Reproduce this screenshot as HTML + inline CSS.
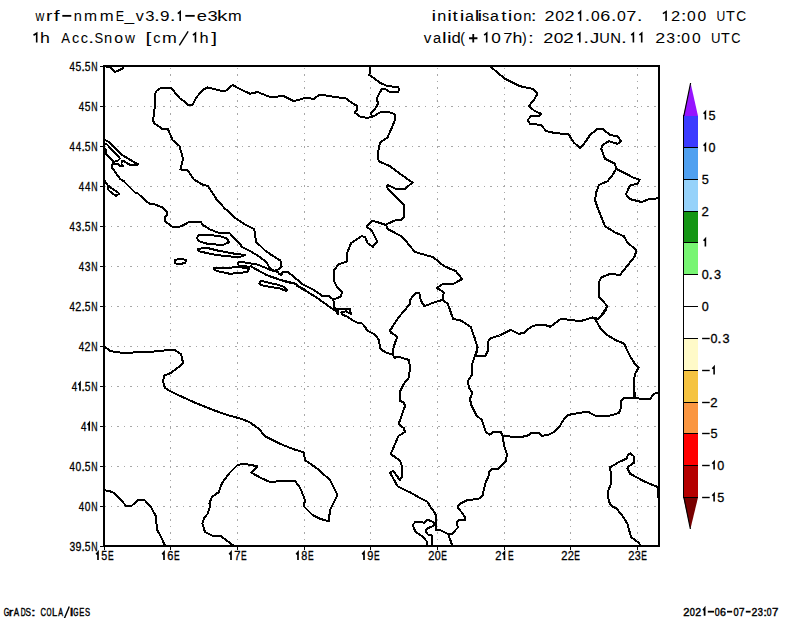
<!DOCTYPE html><html><head><meta charset="utf-8"><style>html,body{margin:0;padding:0;background:#fff;width:800px;height:618px;overflow:hidden}svg{display:block}text{font-family:"Liberation Sans",sans-serif;fill:#000}</style></head><body>
<svg width="800" height="618" viewBox="0 0 800 618">
<rect width="800" height="618" fill="#fff"/>
<text transform="translate(35.52 21) scale(0.845 1)" font-size="14.5" >w</text><text transform="translate(45.93 21) scale(1.324 1)" font-size="14.5" >r</text><text transform="translate(53.72 21) scale(1.450 1)" font-size="14.5" >f</text><rect x="62.30" y="14.95" width="9.00" height="1.8"/><text transform="translate(73.73 21) scale(1.007 1)" font-size="14.5" >n</text><text transform="translate(83.96 21) scale(1.083 1)" font-size="14.5" >m</text><text transform="translate(99.69 21) scale(1.152 1)" font-size="14.5" >m</text><text transform="translate(115.67 21) scale(0.865 1)" font-size="14.5" >E</text><text transform="translate(124.46 21) scale(1.196 1)" font-size="14.5" >_</text><text transform="translate(135.69 21) scale(1.112 1)" font-size="14.5" >v</text><text transform="translate(145.17 21) scale(1.149 1)" font-size="14.5" >3</text><text transform="translate(154.03 21) scale(1.450 1)" font-size="14.5" >.</text><text transform="translate(160.10 21) scale(1.179 1)" font-size="14.5" >9</text><text transform="translate(169.83 21) scale(1.450 1)" font-size="14.5" >.</text><path d="M177.80 13.60L180.20 11.60V21" stroke="#000" stroke-width="1.6" fill="none"/><rect x="185.30" y="14.95" width="9.40" height="1.8"/><text transform="translate(196.82 21) scale(1.264 1)" font-size="14.5" >e</text><text transform="translate(207.60 21) scale(1.265 1)" font-size="14.5" >3</text><text transform="translate(217.07 21) scale(1.450 1)" font-size="14.5" >k</text><text transform="translate(228.11 21) scale(1.132 1)" font-size="14.5" >m</text>
<path d="M33.50 35.20L36.70 33.20V42.6" stroke="#000" stroke-width="1.6" fill="none"/><text transform="translate(40.02 42.6) scale(1.226 1)" font-size="14.5" >h</text><text transform="translate(61.22 42.6) scale(0.910 1)" font-size="14.5" >A</text><text transform="translate(71.88 42.6) scale(1.000 1)" font-size="14.5" >c</text><text transform="translate(80.63 42.6) scale(1.000 1)" font-size="14.5" >c</text><text transform="translate(88.33 42.6) scale(1.450 1)" font-size="14.5" >.</text><text transform="translate(94.41 42.6) scale(0.898 1)" font-size="14.5" >S</text><text transform="translate(104.02 42.6) scale(1.015 1)" font-size="14.5" >n</text><text transform="translate(114.33 42.6) scale(1.095 1)" font-size="14.5" >o</text><text transform="translate(125.02 42.6) scale(0.950 1)" font-size="14.5" >w</text><text transform="translate(145.49 42.6) scale(1.450 1)" font-size="14.5" >[</text><text transform="translate(153.13 42.6) scale(1.000 1)" font-size="14.5" >c</text><text transform="translate(161.92 42.6) scale(1.230 1)" font-size="14.5" >m</text><path d="M179.35 45.40L188.15 31.39" stroke="#000" stroke-width="1.4" fill="none"/><path d="M192.90 35.20L195.45 33.20V42.6" stroke="#000" stroke-width="1.6" fill="none"/><text transform="translate(199.47 42.6) scale(1.128 1)" font-size="14.5" >h</text><text transform="translate(211.17 42.6) scale(1.450 1)" font-size="14.5" >]</text>
<text transform="translate(431.52 21) scale(1.450 1)" font-size="14.5" >i</text><text transform="translate(437.22 21) scale(1.120 1)" font-size="14.5" >n</text><text transform="translate(447.32 21) scale(1.450 1)" font-size="14.5" >i</text><text transform="translate(452.52 21) scale(1.296 1)" font-size="14.5" >t</text><text transform="translate(459.67 21) scale(1.450 1)" font-size="14.5" >i</text><text transform="translate(465.11 21) scale(1.114 1)" font-size="14.5" >a</text><text transform="translate(474.81 21) scale(1.450 1)" font-size="14.5" >l</text><text transform="translate(477.62 21) scale(1.450 1)" font-size="14.5" >i</text><text transform="translate(481.90 21) scale(0.981 1)" font-size="14.5" >s</text><text transform="translate(489.92 21) scale(1.101 1)" font-size="14.5" >a</text><text transform="translate(501.32 21) scale(1.296 1)" font-size="14.5" >t</text><text transform="translate(507.87 21) scale(1.450 1)" font-size="14.5" >i</text><text transform="translate(513.33 21) scale(1.095 1)" font-size="14.5" >o</text><text transform="translate(523.33 21) scale(1.007 1)" font-size="14.5" >n</text><text transform="translate(530.63 21) scale(1.450 1)" font-size="14.5" >:</text><text transform="translate(544.59 21) scale(1.249 1)" font-size="14.5" >2</text><text transform="translate(555.18 21) scale(1.096 1)" font-size="14.5" >0</text><text transform="translate(564.48 21) scale(1.256 1)" font-size="14.5" >2</text><path d="M578.20 13.60L580.50 11.60V21" stroke="#000" stroke-width="1.6" fill="none"/><text transform="translate(584.48 21) scale(1.450 1)" font-size="14.5" >.</text><text transform="translate(590.99 21) scale(1.082 1)" font-size="14.5" >0</text><text transform="translate(600.29 21) scale(1.241 1)" font-size="14.5" >6</text><text transform="translate(610.68 21) scale(1.450 1)" font-size="14.5" >.</text><text transform="translate(617.08 21) scale(1.096 1)" font-size="14.5" >0</text><text transform="translate(626.36 21) scale(1.259 1)" font-size="14.5" >7</text><text transform="translate(636.78 21) scale(1.450 1)" font-size="14.5" >.</text><path d="M662.90 13.60L666.10 11.60V21" stroke="#000" stroke-width="1.6" fill="none"/><text transform="translate(671.07 21) scale(1.135 1)" font-size="14.5" >2</text><text transform="translate(680.83 21) scale(1.450 1)" font-size="14.5" >:</text><text transform="translate(686.89 21) scale(1.082 1)" font-size="14.5" >0</text><text transform="translate(697.49 21) scale(1.082 1)" font-size="14.5" >0</text><text transform="translate(716.56 21) scale(0.838 1)" font-size="14.5" >U</text><text transform="translate(725.93 21) scale(0.994 1)" font-size="14.5" >T</text><text transform="translate(736.20 21) scale(0.947 1)" font-size="14.5" >C</text>
<text transform="translate(423.70 42.6) scale(1.049 1)" font-size="14.5" >v</text><text transform="translate(432.88 42.6) scale(1.007 1)" font-size="14.5" >a</text><text transform="translate(442.03 42.6) scale(1.450 1)" font-size="14.5" >l</text><text transform="translate(446.92 42.6) scale(1.450 1)" font-size="14.5" >i</text><text transform="translate(451.55 42.6) scale(1.150 1)" font-size="14.5" >d</text><text transform="translate(460.37 42.6) scale(0.975 1)" font-size="14.5" >(</text><path d="M469.05 38.25H477.45M473.25 33.95V42.55" stroke="#000" stroke-width="1.8" fill="none"/><path d="M484.15 35.20L486.70 33.20V42.6" stroke="#000" stroke-width="1.6" fill="none"/><text transform="translate(491.33 42.6) scale(1.190 1)" font-size="14.5" >0</text><text transform="translate(503.15 42.6) scale(1.138 1)" font-size="14.5" >7</text><text transform="translate(512.52 42.6) scale(1.226 1)" font-size="14.5" >h</text><text transform="translate(521.92 42.6) scale(0.975 1)" font-size="14.5" >)</text><text transform="translate(528.08 42.6) scale(1.450 1)" font-size="14.5" >:</text><text transform="translate(543.18 42.6) scale(1.256 1)" font-size="14.5" >2</text><text transform="translate(553.72 42.6) scale(1.197 1)" font-size="14.5" >0</text><text transform="translate(563.12 42.6) scale(1.347 1)" font-size="14.5" >2</text><path d="M577.50 35.20L579.80 33.20V42.6" stroke="#000" stroke-width="1.6" fill="none"/><text transform="translate(583.18 42.6) scale(1.450 1)" font-size="14.5" >.</text><text transform="translate(589.91 42.6) scale(1.278 1)" font-size="14.5" >J</text><text transform="translate(599.37 42.6) scale(1.008 1)" font-size="14.5" >U</text><text transform="translate(610.28 42.6) scale(1.025 1)" font-size="14.5" >N</text><text transform="translate(620.98 42.6) scale(1.450 1)" font-size="14.5" >.</text><path d="M631.20 35.20L633.40 33.20V42.6" stroke="#000" stroke-width="1.6" fill="none"/><path d="M639.40 35.20L641.70 33.20V42.6" stroke="#000" stroke-width="1.6" fill="none"/><text transform="translate(655.35 42.6) scale(1.234 1)" font-size="14.5" >2</text><text transform="translate(666.30 42.6) scale(1.091 1)" font-size="14.5" >3</text><text transform="translate(675.83 42.6) scale(1.450 1)" font-size="14.5" >:</text><text transform="translate(681.29 42.6) scale(1.082 1)" font-size="14.5" >0</text><text transform="translate(691.89 42.6) scale(1.082 1)" font-size="14.5" >0</text><text transform="translate(710.88 42.6) scale(0.911 1)" font-size="14.5" >U</text><text transform="translate(720.93 42.6) scale(0.994 1)" font-size="14.5" >T</text><text transform="translate(731.25 42.6) scale(0.882 1)" font-size="14.5" >C</text>
<path d="M170.5 67.5V542.5M237.5 67.5V542.5M304.5 67.5V542.5M370.5 67.5V542.5M437.5 67.5V542.5M504.5 67.5V542.5M570.5 67.5V542.5M637.5 67.5V542.5M104.25 106.5H655.5M104.25 146.5H655.5M104.25 186.5H655.5M104.25 226.5H655.5M104.25 266.5H655.5M104.25 306.5H655.5M104.25 346.5H655.5M104.25 386.5H655.5M104.25 426.5H655.5M104.25 466.5H655.5M104.25 506.5H655.5" stroke="#a8a8a8" stroke-width="1" stroke-dasharray="1.5 5.045" shape-rendering="crispEdges" fill="none"/>
<clipPath id="c"><rect x="103.5" y="65.5" width="555.0" height="480.0"/></clipPath>
<g clip-path="url(#c)" fill="none" stroke="#000" stroke-width="2" stroke-linejoin="round" stroke-linecap="round" shape-rendering="crispEdges">
<path d="M104.5 66.2 110.2 67.4 114.7 71.9 119.3 70.2 122.7 68.5 123.8 66.2"/>
<path d="M179.9 98.5 182.5 100.0 188.8 105.5 192.5 105.0 196.0 98.0 202.5 90.0 207.5 87.5 220.0 90.5 226.0 90.5 232.5 85.0 241.0 89.5 250.0 93.8 257.5 92.0 270.0 97.0 283.8 96.2 293.8 101.2 305.0 98.0 313.8 98.8 320.0 94.5 330.0 96.2 346.2 98.5 351.3 102.5 357.0 105.9 357.0 109.9 354.7 112.7 360.4 116.7 367.2 117.8 372.9 116.7 378.5 113.3 381.9 111.6 392.1 112.7 395.5 115.5 395.0 120.0 392.7 125.7 387.5 137.5 380.0 142.5 377.5 155.0 378.8 161.2 390.0 166.2 400.0 173.8 412.5 182.5 405.0 188.8 397.5 189.5 387.5 185.0 387.0 187.5 397.5 198.8 403.8 205.0 403.8 217.5 401.2 220.0 395.0 220.5 387.5 223.8 386.2 225.0"/>
<path d="M179.9 98.5 171.4 88.3 161.2 87.8 156.7 90.6 155.0 94.0 155.0 105.3 153.8 115.5 152.7 120.1 154.4 123.5 157.8 125.7 161.8 128.6 168.0 129.3 172.5 140.0 179.5 146.0 183.0 158.8 180.5 169.5 187.5 170.0 193.8 179.5 202.5 184.5 208.0 186.0 216.2 198.8 225.0 208.8 228.0 211.0 234.0 217.0 244.0 224.0 254.0 229.0 254.5 231.0 256.0 242.0 260.0 245.5 265.2 250.7 272.4 255.6 280.4 260.5 281.7 266.7 278.6 269.4 275.0 270.7"/>
<path d="M281.3 274.7 283.0 272.0 287.5 271.6 302.8 284.3 313.0 289.4 322.1 295.7 328.9 296.0 333.4 299.6"/>
<path d="M386.2 225.0 372.0 220.5 366.8 226.6 372.0 231.0 377.2 241.5 372.9 246.8 367.6 243.2 365.0 237.1 361.5 236.2 351.0 243.2 347.5 252.0 346.6 261.6 338.8 264.2 334.4 269.5 333.5 280.0 337.0 287.0 342.2 292.2 340.5 296.6 333.4 299.6 334.0 307.6 337.4 309.8 338.0 314.4"/>
<path d="M370.0 66.2 369.7 73.6 368.9 74.7 374.0 78.1 379.7 82.7 387.6 86.1 398.4 87.2 398.9 89.5 398.4 91.7 389.9 92.0 385.3 88.9 381.9 88.9 379.1 94.0 377.4 97.4 376.8 99.7 378.0 103.0 376.8 106.5 374.0 109.9 370.6 113.8 371.7 115.5 372.9 116.7"/>
<path d="M386.2 225.0 387.8 229.2 400.0 235.4 407.0 242.4 414.9 252.0 433.2 257.2 443.8 266.0 456.0 271.2 462.0 279.1 452.5 284.4 442.0 284.4 436.8 288.0 443.8 292.2 442.5 300.0 447.9 304.0 453.1 318.9 461.0 320.6 470.6 326.8 475.0 339.0 477.6 347.8 475.9 355.6 478.5 356.5 485.5 355.6 488.1 350.4 488.1 341.6 490.8 338.1 499.5 335.5 510.9 329.9 518.8 333.8 524.0 332.9 531.0 326.8 536.2 325.0 545.0 325.0 550.2 326.8 560.8 318.9 573.0 320.1 578.2 321.1 582.5 320.5 592.5 317.5 598.8 318.8 606.2 310.0"/>
<path d="M442.5 300.0 435.0 302.0 424.5 306.2 421.0 301.0 419.2 293.0 415.8 293.0 410.5 299.2 410.4 303.4 398.0 318.1 390.0 330.6 391.2 332.8 397.4 336.8 395.1 342.5 392.9 349.8 392.9 355.5"/>
<path d="M595.0 318.8 598.8 318.8 607.5 306.2 599.5 297.5 598.8 282.5 601.2 277.5 610.0 273.8 620.0 275.0 635.0 256.2 636.2 250.0 627.5 242.5 623.8 236.2 615.0 232.5 605.0 226.2 597.5 207.5 595.0 200.0 596.2 192.5 598.8 185.0 607.5 181.2 612.5 175.0 616.2 168.8"/>
<path d="M490.0 66.2 497.5 72.5 505.0 78.8 520.0 86.2 532.5 88.8 537.5 93.8 533.8 100.0 528.8 106.2 535.0 111.2 541.2 113.8 538.8 116.2 531.2 116.2 527.5 120.0 530.0 123.8 541.2 125.0 546.2 131.2 555.0 133.0 568.8 134.5 573.8 142.5 580.0 148.0 585.0 142.5 590.0 135.0 597.5 128.8 602.5 128.8 610.0 135.0 617.5 136.2 621.2 141.2 617.5 143.8 608.8 141.2 602.5 145.0 601.2 148.8 605.0 158.8 610.0 161.2 615.0 163.8 616.2 168.8 633.8 177.8 639.6 179.7 637.7 183.6 629.9 185.5 626.0 194.3 629.9 199.1 641.6 202.0 649.3 199.1 659.0 198.2"/>
<path d="M595.0 318.8 600.8 328.8 606.6 334.7 616.3 340.5 624.0 343.4 629.9 356.0 634.8 363.8 638.6 367.7 634.8 374.5 633.8 385.0 633.8 397.5 640.0 398.8 650.0 398.8 654.2 393.7 659.0 392.4"/>
<path d="M633.6 380.0 635.0 397.9"/>
<path d="M633.8 397.5 625.0 397.5 620.6 401.2 620.6 408.8 618.8 413.1 610.0 415.6 595.0 415.6 588.8 412.2 585.0 411.9 568.8 414.8 565.0 417.5 559.5 426.5 553.9 432.1 548.2 434.9 541.7 435.9 539.3 432.6 532.0 432.6 528.0 435.4 521.5 437.0 502.9 436.2 500.5 431.6 494.0 431.6 489.9 434.6 485.9 432.1 481.8 420.0 476.2 415.0 471.2 405.0 470.0 398.8 472.5 392.5 468.9 388.0 468.0 381.0 472.4 374.0 471.5 366.1 474.1 358.2 476.8 350.4"/>
<path d="M502.9 436.2 503.7 444.3 506.9 454.0 506.1 460.5 498.8 468.5 491.6 469.4 489.1 471.8 488.3 477.4 485.9 481.5 484.3 488.0 482.6 495.2 479.4 498.5 472.1 499.6 468.0 499.8 461.2 503.2 457.8 506.1 458.4 508.3 461.2 511.7 465.2 517.4 464.6 520.2 458.9 520.2 456.7 521.9 457.8 527.6 452.1 533.8 447.6 533.8 439.7 529.9 435.7 529.9"/>
<path d="M448.2 534.4 449.9 538.9 452.1 545.2"/>
<path d="M427.2 545.2 426.6 541.2 422.7 536.7 415.9 532.1 413.6 527.6 413.0 524.8 415.3 521.9 422.1 521.9 423.8 523.1 427.8 519.7 434.0 522.5 434.6 524.2 432.3 526.5 427.8 528.2 425.5 531.0 427.8 534.4 431.7 535.5 431.7 545.2"/>
<path d="M657.5 497.0 657.5 489.0 659.0 487.2 655.9 486.3 643.4 481.0 630.1 473.8 627.4 468.5 628.3 466.7 634.5 462.3 633.6 456.0 630.1 453.4 628.3 454.2 626.5 458.7 618.5 462.3 609.6 467.6 611.4 474.7 611.4 482.7 607.8 491.6 608.7 501.4 611.4 505.9 616.7 508.6 622.9 516.6 627.4 523.7 631.0 537.0 638.1 542.4 640.8 545.4"/>
<path d="M112.5 164.5 112.0 167.5 120.0 178.8 123.8 181.2 135.0 192.5 137.5 193.1 146.2 201.2 150.0 203.8 155.0 204.4 162.5 207.5 167.5 212.5 167.0 215.0 165.0 216.5 165.0 221.2 172.5 226.9 177.5 227.5 182.5 225.6 190.0 221.5 200.5 221.5 203.0 225.0 210.0 229.5 218.0 232.5 229.0 232.5 240.0 244.0 242.0 247.0 250.0 251.0 260.0 257.0 267.0 262.7 268.4 265.8 271.5 269.8 275.0 271.1 277.7 272.0 279.5 274.3 281.3 274.7"/>
<path d="M270.0 276.4 276.8 278.7 287.0 282.0 296.0 283.8 297.2 286.0 307.4 291.7 318.7 299.0 328.9 306.4 335.7 311.0 338.0 314.4 338.0 310.0 337.9 308.5 349.8 308.5 351.0 314.2 345.9 311.3 341.3 312.5 342.5 314.7 347.0 316.4 352.6 320.4 357.2 322.6 361.7 323.2 364.0 325.5 367.4 330.6 373.0 333.4 376.4 336.2 379.3 340.8 379.8 347.6 382.1 350.4 386.6 352.7 392.3 354.4 394.6 357.8 398.0 356.6 409.3 360.0 409.8 369.1 408.9 377.6 403.7 384.0 399.8 391.8 399.8 400.9 403.7 402.2 405.0 406.0 401.0 417.7 398.5 424.2 403.7 428.0 405.0 432.0 398.5 435.9 390.7 454.0 399.8 460.5 402.4 467.0 402.4 476.0 399.8 480.0 393.3 470.8 390.0 472.5 397.5 486.2 411.3 493.0 418.1 497.0 427.2 501.5 430.6 507.2 434.0 511.7 435.7 515.1 435.7 523.1 435.7 529.9"/>
<path d="M273.3 271.1 266.1 268.0 257.2 264.5 246.6 262.7 238.6 261.8 237.7 263.6 239.0 265.8 249.2 266.7 251.0 266.2 254.6 268.5 266.1 274.7 279.5 279.6 295.5 283.6 297.3 285.8 305.0 289.8"/>
<path d="M104.5 140.0 107.4 141.2 109.9 142.9 121.0 154.3 129.4 159.3 134.0 162.2 138.5 164.5 130.6 165.3 123.0 160.6 121.6 161.6 121.5 163.8 123.0 166.0 119.5 166.1 118.5 164.4 114.0 164.0 112.5 164.5"/>
<path d="M104.5 143.5 107.0 144.5 119.3 157.5 119.8 158.8 117.5 161.0 113.8 161.8"/>
<path d="M105.5 149.0 105.5 153.5 113.8 161.8 112.5 164.5"/>
<path d="M104.5 180.5 107.5 185.0 108.5 190.0 111.5 192.8 116.0 196.0 119.2 193.8 117.5 192.0 112.5 188.8 107.5 185.0"/>
<path d="M198.8 235.0 205.0 234.5 220.0 236.2 227.5 238.8 228.8 242.5 222.5 245.0 207.5 243.8 198.8 241.2 197.0 238.0 198.8 235.0"/>
<path d="M197.5 248.8 207.5 248.0 217.5 250.5 235.0 253.8 245.0 255.0 240.0 257.0 225.0 256.2 210.0 253.8 198.8 251.2 197.5 248.8"/>
<path d="M175.0 260.0 180.0 258.8 186.2 260.0 185.0 263.0 177.5 264.5 174.5 262.5 175.0 260.0"/>
<path d="M213.8 267.5 225.0 268.0 238.8 267.0 248.8 268.8 247.5 272.0 230.0 273.8 217.5 271.2 213.8 269.5 213.8 267.5"/>
<path d="M259.0 283.6 260.8 281.2 265.2 281.6 270.0 283.3 275.7 284.0 283.6 286.8 287.0 289.6 285.9 290.8 280.2 288.6 273.4 287.4 270.0 286.9 261.7 285.2 259.0 283.6"/>
<path d="M104.0 346.0 110.0 351.0 113.0 351.5 120.0 352.5 130.0 353.5 133.0 352.5 142.0 351.5 148.0 352.5 154.0 351.5 164.0 350.5 171.0 349.5 175.0 350.0 181.1 354.2 183.0 362.7 177.8 367.8 170.7 373.0 164.2 375.6 163.0 381.5 164.9 387.9 171.4 391.8 182.4 397.0 195.3 402.8 214.8 410.6 227.7 415.1 242.0 419.0 250.0 422.5 258.8 428.8 265.0 436.2 275.0 441.2 280.0 443.8 292.5 448.8 303.8 452.5 305.0 460.0 317.5 468.8 330.0 480.0 337.5 495.0 333.8 502.5 330.0 510.0 328.8 521.2 320.0 518.8 312.5 515.0 303.8 506.2 305.0 500.0 300.0 487.5 295.0 481.2 280.0 481.2 270.0 482.0 260.0 477.5 251.2 472.5 257.5 466.2 243.8 463.8 237.5 465.0 230.0 472.5 222.5 482.2 219.9 488.4 219.0 491.9 212.0 497.1 209.4 503.2 210.2 505.9 207.6 513.8 204.1 518.1 202.4 523.4 205.0 532.1 212.0 535.6 220.8 536.1 226.0 540.0 233.0 545.2"/>
<path d="M104.4 490.1 112.2 491.9 117.5 496.2 126.2 505.9 131.5 505.9 138.5 499.8 144.6 500.1 150.8 506.8 156.0 516.4 156.9 529.5 160.4 535.6 164.8 545.2"/>
</g>
<g fill="#000" shape-rendering="crispEdges"><rect x="103" y="65" width="557" height="2"/><rect x="103" y="545" width="557" height="2"/><rect x="103" y="65" width="2" height="482"/><rect x="658" y="65" width="2" height="482"/></g>
<text transform="translate(69.58 70.8) scale(0.797 1)" font-size="12.2" stroke="#000" stroke-width="0.3">4</text><text transform="translate(75.49 70.8) scale(0.847 1)" font-size="12.2" stroke="#000" stroke-width="0.3">5</text><text transform="translate(81.35 70.8) scale(1.119 1)" font-size="12.2" stroke="#000" stroke-width="0.3">.</text><text transform="translate(84.69 70.8) scale(0.847 1)" font-size="12.2" stroke="#000" stroke-width="0.3">5</text><text transform="translate(91.28 70.8) scale(0.719 1)" font-size="12.2" stroke="#000" stroke-width="0.3">N</text>
<text transform="translate(78.78 110.8) scale(0.797 1)" font-size="12.2" stroke="#000" stroke-width="0.3">4</text><text transform="translate(84.69 110.8) scale(0.847 1)" font-size="12.2" stroke="#000" stroke-width="0.3">5</text><text transform="translate(91.28 110.8) scale(0.719 1)" font-size="12.2" stroke="#000" stroke-width="0.3">N</text>
<text transform="translate(69.58 150.8) scale(0.797 1)" font-size="12.2" stroke="#000" stroke-width="0.3">4</text><text transform="translate(75.68 150.8) scale(0.797 1)" font-size="12.2" stroke="#000" stroke-width="0.3">4</text><text transform="translate(81.35 150.8) scale(1.119 1)" font-size="12.2" stroke="#000" stroke-width="0.3">.</text><text transform="translate(84.69 150.8) scale(0.847 1)" font-size="12.2" stroke="#000" stroke-width="0.3">5</text><text transform="translate(91.28 150.8) scale(0.719 1)" font-size="12.2" stroke="#000" stroke-width="0.3">N</text>
<text transform="translate(78.78 190.8) scale(0.797 1)" font-size="12.2" stroke="#000" stroke-width="0.3">4</text><text transform="translate(84.88 190.8) scale(0.797 1)" font-size="12.2" stroke="#000" stroke-width="0.3">4</text><text transform="translate(91.28 190.8) scale(0.719 1)" font-size="12.2" stroke="#000" stroke-width="0.3">N</text>
<text transform="translate(69.58 230.8) scale(0.797 1)" font-size="12.2" stroke="#000" stroke-width="0.3">4</text><text transform="translate(75.51 230.8) scale(0.847 1)" font-size="12.2" stroke="#000" stroke-width="0.3">3</text><text transform="translate(81.35 230.8) scale(1.119 1)" font-size="12.2" stroke="#000" stroke-width="0.3">.</text><text transform="translate(84.69 230.8) scale(0.847 1)" font-size="12.2" stroke="#000" stroke-width="0.3">5</text><text transform="translate(91.28 230.8) scale(0.719 1)" font-size="12.2" stroke="#000" stroke-width="0.3">N</text>
<text transform="translate(78.78 270.8) scale(0.797 1)" font-size="12.2" stroke="#000" stroke-width="0.3">4</text><text transform="translate(84.71 270.8) scale(0.847 1)" font-size="12.2" stroke="#000" stroke-width="0.3">3</text><text transform="translate(91.28 270.8) scale(0.719 1)" font-size="12.2" stroke="#000" stroke-width="0.3">N</text>
<text transform="translate(69.58 310.8) scale(0.797 1)" font-size="12.2" stroke="#000" stroke-width="0.3">4</text><text transform="translate(75.36 310.8) scale(0.882 1)" font-size="12.2" stroke="#000" stroke-width="0.3">2</text><text transform="translate(81.35 310.8) scale(1.119 1)" font-size="12.2" stroke="#000" stroke-width="0.3">.</text><text transform="translate(84.69 310.8) scale(0.847 1)" font-size="12.2" stroke="#000" stroke-width="0.3">5</text><text transform="translate(91.28 310.8) scale(0.719 1)" font-size="12.2" stroke="#000" stroke-width="0.3">N</text>
<text transform="translate(78.78 350.8) scale(0.797 1)" font-size="12.2" stroke="#000" stroke-width="0.3">4</text><text transform="translate(84.56 350.8) scale(0.882 1)" font-size="12.2" stroke="#000" stroke-width="0.3">2</text><text transform="translate(91.28 350.8) scale(0.719 1)" font-size="12.2" stroke="#000" stroke-width="0.3">N</text>
<text transform="translate(71.68 390.8) scale(0.797 1)" font-size="12.2" stroke="#000" stroke-width="0.3">4</text><path d="M78.40 384.98L80.00 382.98V390.8" stroke="#000" stroke-width="1.7" fill="none"/><text transform="translate(81.35 390.8) scale(1.119 1)" font-size="12.2" stroke="#000" stroke-width="0.3">.</text><text transform="translate(84.69 390.8) scale(0.847 1)" font-size="12.2" stroke="#000" stroke-width="0.3">5</text><text transform="translate(91.28 390.8) scale(0.719 1)" font-size="12.2" stroke="#000" stroke-width="0.3">N</text>
<text transform="translate(80.88 430.8) scale(0.797 1)" font-size="12.2" stroke="#000" stroke-width="0.3">4</text><path d="M87.60 424.98L89.20 422.98V430.8" stroke="#000" stroke-width="1.7" fill="none"/><text transform="translate(91.28 430.8) scale(0.719 1)" font-size="12.2" stroke="#000" stroke-width="0.3">N</text>
<text transform="translate(69.58 470.8) scale(0.797 1)" font-size="12.2" stroke="#000" stroke-width="0.3">4</text><text transform="translate(75.50 470.8) scale(0.840 1)" font-size="12.2" stroke="#000" stroke-width="0.3">0</text><text transform="translate(81.35 470.8) scale(1.119 1)" font-size="12.2" stroke="#000" stroke-width="0.3">.</text><text transform="translate(84.69 470.8) scale(0.847 1)" font-size="12.2" stroke="#000" stroke-width="0.3">5</text><text transform="translate(91.28 470.8) scale(0.719 1)" font-size="12.2" stroke="#000" stroke-width="0.3">N</text>
<text transform="translate(78.78 510.8) scale(0.797 1)" font-size="12.2" stroke="#000" stroke-width="0.3">4</text><text transform="translate(84.70 510.8) scale(0.840 1)" font-size="12.2" stroke="#000" stroke-width="0.3">0</text><text transform="translate(91.28 510.8) scale(0.719 1)" font-size="12.2" stroke="#000" stroke-width="0.3">N</text>
<text transform="translate(69.41 550.8) scale(0.847 1)" font-size="12.2" stroke="#000" stroke-width="0.3">3</text><text transform="translate(75.40 550.8) scale(0.870 1)" font-size="12.2" stroke="#000" stroke-width="0.3">9</text><text transform="translate(81.35 550.8) scale(1.119 1)" font-size="12.2" stroke="#000" stroke-width="0.3">.</text><text transform="translate(84.69 550.8) scale(0.847 1)" font-size="12.2" stroke="#000" stroke-width="0.3">5</text><text transform="translate(91.28 550.8) scale(0.719 1)" font-size="12.2" stroke="#000" stroke-width="0.3">N</text>
<path d="M96.20 554.32L98.00 552.32V560" stroke="#000" stroke-width="1.7" fill="none"/><text transform="translate(101.37 560) scale(0.896 1)" font-size="12.0" stroke="#000" stroke-width="0.3">5</text><text transform="translate(107.88 560) scale(0.700 1)" font-size="12.0" stroke="#000" stroke-width="0.3">E</text>
<path d="M162.20 554.32L164.00 552.32V560" stroke="#000" stroke-width="1.7" fill="none"/><text transform="translate(167.24 560) scale(0.921 1)" font-size="12.0" stroke="#000" stroke-width="0.3">6</text><text transform="translate(173.88 560) scale(0.700 1)" font-size="12.0" stroke="#000" stroke-width="0.3">E</text>
<path d="M229.20 554.32L231.00 552.32V560" stroke="#000" stroke-width="1.7" fill="none"/><text transform="translate(234.22 560) scale(0.935 1)" font-size="12.0" stroke="#000" stroke-width="0.3">7</text><text transform="translate(240.88 560) scale(0.700 1)" font-size="12.0" stroke="#000" stroke-width="0.3">E</text>
<path d="M296.20 554.32L298.00 552.32V560" stroke="#000" stroke-width="1.7" fill="none"/><text transform="translate(301.33 560) scale(0.906 1)" font-size="12.0" stroke="#000" stroke-width="0.3">8</text><text transform="translate(307.88 560) scale(0.700 1)" font-size="12.0" stroke="#000" stroke-width="0.3">E</text>
<path d="M362.20 554.32L364.00 552.32V560" stroke="#000" stroke-width="1.7" fill="none"/><text transform="translate(367.28 560) scale(0.920 1)" font-size="12.0" stroke="#000" stroke-width="0.3">9</text><text transform="translate(373.88 560) scale(0.700 1)" font-size="12.0" stroke="#000" stroke-width="0.3">E</text>
<text transform="translate(428.24 560) scale(0.933 1)" font-size="12.0" stroke="#000" stroke-width="0.3">2</text><text transform="translate(434.78 560) scale(0.889 1)" font-size="12.0" stroke="#000" stroke-width="0.3">0</text><text transform="translate(441.28 560) scale(0.700 1)" font-size="12.0" stroke="#000" stroke-width="0.3">E</text>
<text transform="translate(495.24 560) scale(0.933 1)" font-size="12.0" stroke="#000" stroke-width="0.3">2</text><path d="M502.60 554.32L504.40 552.32V560" stroke="#000" stroke-width="1.7" fill="none"/><text transform="translate(507.88 560) scale(0.700 1)" font-size="12.0" stroke="#000" stroke-width="0.3">E</text>
<text transform="translate(561.24 560) scale(0.933 1)" font-size="12.0" stroke="#000" stroke-width="0.3">2</text><text transform="translate(567.64 560) scale(0.933 1)" font-size="12.0" stroke="#000" stroke-width="0.3">2</text><text transform="translate(574.28 560) scale(0.700 1)" font-size="12.0" stroke="#000" stroke-width="0.3">E</text>
<text transform="translate(628.24 560) scale(0.933 1)" font-size="12.0" stroke="#000" stroke-width="0.3">2</text><text transform="translate(634.79 560) scale(0.896 1)" font-size="12.0" stroke="#000" stroke-width="0.3">3</text><text transform="translate(641.28 560) scale(0.700 1)" font-size="12.0" stroke="#000" stroke-width="0.3">E</text>
<path d="M100.0 66.5H103.5M100.0 106.5H103.5M100.0 146.5H103.5M100.0 186.5H103.5M100.0 226.5H103.5M100.0 266.5H103.5M100.0 306.5H103.5M100.0 346.5H103.5M100.0 386.5H103.5M100.0 426.5H103.5M100.0 466.5H103.5M100.0 506.5H103.5M100.0 546.5H103.5M104.5 546.5V549.5M170.5 546.5V549.5M237.5 546.5V549.5M304.5 546.5V549.5M370.5 546.5V549.5M437.5 546.5V549.5M504.5 546.5V549.5M570.5 546.5V549.5M637.5 546.5V549.5" stroke="#000" stroke-width="1" shape-rendering="crispEdges"/>
<g shape-rendering="crispEdges">
<rect x="684" y="116" width="14" height="31" fill="#3c3cff"/>
<rect x="684" y="148" width="14" height="31" fill="#50a0f0"/>
<rect x="684" y="180" width="14" height="31" fill="#96d2fa"/>
<rect x="684" y="212" width="14" height="30" fill="#149614"/>
<rect x="684" y="243" width="14" height="31" fill="#78f573"/>
<rect x="684" y="275" width="14" height="31" fill="#ffffff"/>
<rect x="684" y="307" width="14" height="31" fill="#ffffff"/>
<rect x="684" y="339" width="14" height="31" fill="#fffac8"/>
<rect x="684" y="371" width="14" height="31" fill="#f5c341"/>
<rect x="684" y="403" width="14" height="30" fill="#fa9641"/>
<rect x="684" y="434" width="14" height="31" fill="#ff0000"/>
<rect x="684" y="466" width="14" height="31" fill="#b40000"/>
</g>
<path d="M683.5 116L690.6 83L698 116Z" fill="#9614ff"/>
<path d="M683.5 497.5L690.4 529L698 497.5Z" fill="#780000"/>
<path d="M683.8 116L690.6 83M683.8 497L690.4 529" stroke="#000" stroke-width="1.2" fill="none"/>
<g shape-rendering="crispEdges" fill="#000">
<rect x="683" y="115" width="1" height="383"/>
<rect x="683" y="147" width="15" height="1"/>
<rect x="683" y="179" width="15" height="1"/>
<rect x="683" y="211" width="15" height="1"/>
<rect x="683" y="242" width="15" height="1"/>
<rect x="683" y="274" width="15" height="1"/>
<rect x="683" y="306" width="15" height="1"/>
<rect x="683" y="338" width="15" height="1"/>
<rect x="683" y="370" width="15" height="1"/>
<rect x="683" y="402" width="15" height="1"/>
<rect x="683" y="433" width="15" height="1"/>
<rect x="683" y="465" width="15" height="1"/>
<rect x="683" y="497" width="15" height="1"/>
</g>
<path d="M703.60 113.71L705.40 111.71V119.6" stroke="#000" stroke-width="1.6" fill="none"/><text transform="translate(708.59 119.6) scale(1.029 1)" font-size="12.3" stroke="#000" stroke-width="0.3">5</text>
<path d="M703.60 145.71L705.40 143.71V151.6" stroke="#000" stroke-width="1.6" fill="none"/><text transform="translate(708.61 151.6) scale(1.020 1)" font-size="12.3" stroke="#000" stroke-width="0.3">0</text>
<text transform="translate(701.69 183.6) scale(1.029 1)" font-size="12.3" stroke="#000" stroke-width="0.3">5</text>
<text transform="translate(701.54 215.6) scale(1.071 1)" font-size="12.3" stroke="#000" stroke-width="0.3">2</text>
<path d="M703.60 240.71L705.40 238.71V246.6" stroke="#000" stroke-width="1.6" fill="none"/>
<text transform="translate(701.71 278.6) scale(1.020 1)" font-size="12.3" stroke="#000" stroke-width="0.3">0</text><text transform="translate(708.56 278.6) scale(1.281 1)" font-size="12.3" stroke="#000" stroke-width="0.3">.</text><text transform="translate(713.92 278.6) scale(1.029 1)" font-size="12.3" stroke="#000" stroke-width="0.3">3</text>
<text transform="translate(701.71 310.6) scale(1.020 1)" font-size="12.3" stroke="#000" stroke-width="0.3">0</text>
<rect x="702.10" y="337.80" width="7.6" height="1.4" fill="#000"/>
<text transform="translate(710.41 342.6) scale(1.020 1)" font-size="12.3" stroke="#000" stroke-width="0.3">0</text><text transform="translate(717.26 342.6) scale(1.281 1)" font-size="12.3" stroke="#000" stroke-width="0.3">.</text><text transform="translate(722.62 342.6) scale(1.029 1)" font-size="12.3" stroke="#000" stroke-width="0.3">3</text>
<rect x="702.10" y="369.80" width="7.6" height="1.4" fill="#000"/>
<path d="M712.30 368.71L714.10 366.71V374.6" stroke="#000" stroke-width="1.6" fill="none"/>
<rect x="702.10" y="401.80" width="7.6" height="1.4" fill="#000"/>
<text transform="translate(710.24 406.6) scale(1.071 1)" font-size="12.3" stroke="#000" stroke-width="0.3">2</text>
<rect x="702.10" y="432.80" width="7.6" height="1.4" fill="#000"/>
<text transform="translate(710.39 437.6) scale(1.029 1)" font-size="12.3" stroke="#000" stroke-width="0.3">5</text>
<rect x="702.10" y="464.80" width="7.6" height="1.4" fill="#000"/>
<path d="M712.30 463.71L714.10 461.71V469.6" stroke="#000" stroke-width="1.6" fill="none"/><text transform="translate(717.31 469.6) scale(1.020 1)" font-size="12.3" stroke="#000" stroke-width="0.3">0</text>
<rect x="702.10" y="496.80" width="7.6" height="1.4" fill="#000"/>
<path d="M712.30 495.71L714.10 493.71V501.6" stroke="#000" stroke-width="1.6" fill="none"/><text transform="translate(717.29 501.6) scale(1.029 1)" font-size="12.3" stroke="#000" stroke-width="0.3">5</text>
<text transform="translate(3.74 615.8) scale(0.614 1)" font-size="11.6" stroke="#000" stroke-width="0.45">G</text><text transform="translate(8.80 615.8) scale(1.172 1)" font-size="11.6" stroke="#000" stroke-width="0.45">r</text><text transform="translate(13.73 615.8) scale(0.696 1)" font-size="11.6" stroke="#000" stroke-width="0.45">A</text><text transform="translate(20.69 615.8) scale(0.589 1)" font-size="11.6" stroke="#000" stroke-width="0.45">D</text><text transform="translate(25.53 615.8) scale(0.704 1)" font-size="11.6" stroke="#000" stroke-width="0.45">S</text><text transform="translate(30.97 615.8) scale(1.449 1)" font-size="11.6" stroke="#000" stroke-width="0.45">:</text><text transform="translate(40.62 615.8) scale(0.653 1)" font-size="11.6" stroke="#000" stroke-width="0.45">C</text><text transform="translate(46.59 615.8) scale(0.556 1)" font-size="11.6" stroke="#000" stroke-width="0.45">O</text><text transform="translate(51.94 615.8) scale(0.802 1)" font-size="11.6" stroke="#000" stroke-width="0.45">L</text><text transform="translate(58.19 615.8) scale(0.624 1)" font-size="11.6" stroke="#000" stroke-width="0.45">A</text><path d="M64.30 618.60L69.30 606.60" stroke="#000" stroke-width="1.4" fill="none"/><text transform="translate(69.51 615.8) scale(1.294 1)" font-size="11.6" stroke="#000" stroke-width="0.45">I</text><text transform="translate(73.36 615.8) scale(0.581 1)" font-size="11.6" stroke="#000" stroke-width="0.45">G</text><text transform="translate(79.28 615.8) scale(0.652 1)" font-size="11.6" stroke="#000" stroke-width="0.45">E</text><text transform="translate(85.05 615.8) scale(0.659 1)" font-size="11.6" stroke="#000" stroke-width="0.45">S</text>
<text transform="translate(683.24 615.8) scale(0.965 1)" font-size="11.6" stroke="#000" stroke-width="0.45">2</text><text transform="translate(689.64 615.8) scale(0.793 1)" font-size="11.6" stroke="#000" stroke-width="0.45">0</text><text transform="translate(695.27 615.8) scale(0.908 1)" font-size="11.6" stroke="#000" stroke-width="0.45">2</text><path d="M703.10 610.40L704.60 608.40V615.8" stroke="#000" stroke-width="1.8" fill="none"/><rect x="707.80" y="610.78" width="6.20" height="1.8"/><text transform="translate(714.66 615.8) scale(0.757 1)" font-size="11.6" stroke="#000" stroke-width="0.45">0</text><text transform="translate(719.96 615.8) scale(0.915 1)" font-size="11.6" stroke="#000" stroke-width="0.45">6</text><rect x="727.00" y="610.78" width="5.20" height="1.8"/><text transform="translate(733.44 615.8) scale(0.793 1)" font-size="11.6" stroke="#000" stroke-width="0.45">0</text><text transform="translate(739.09 615.8) scale(0.853 1)" font-size="11.6" stroke="#000" stroke-width="0.45">7</text><rect x="745.80" y="610.78" width="4.80" height="1.8"/><text transform="translate(751.47 615.8) scale(0.908 1)" font-size="11.6" stroke="#000" stroke-width="0.45">2</text><text transform="translate(757.85 615.8) scale(0.800 1)" font-size="11.6" stroke="#000" stroke-width="0.45">3</text><text transform="translate(763.15 615.8) scale(1.177 1)" font-size="11.6" stroke="#000" stroke-width="0.45">:</text><text transform="translate(766.76 615.8) scale(0.739 1)" font-size="11.6" stroke="#000" stroke-width="0.45">0</text><text transform="translate(772.01 615.8) scale(0.986 1)" font-size="11.6" stroke="#000" stroke-width="0.45">7</text>
</svg></body></html>
